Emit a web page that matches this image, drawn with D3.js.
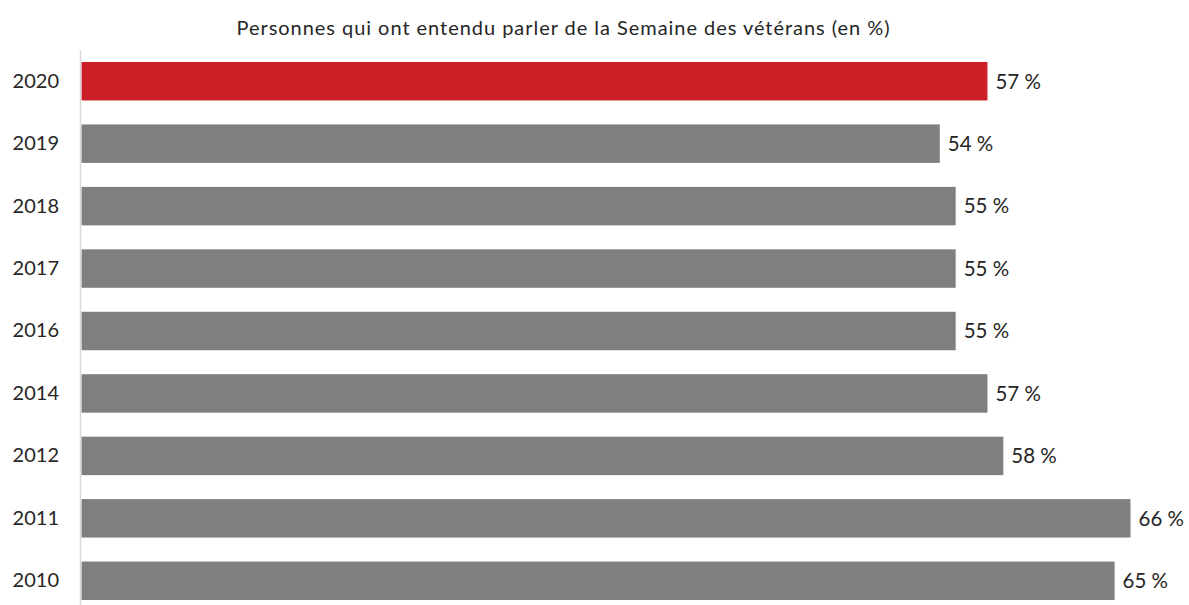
<!DOCTYPE html>
<html>
<head>
<meta charset="utf-8">
<script src="https://cdn.jsdelivr.net/npm/d3@7"></script>
<style>
  body { margin: 0; background: #fff; }
  svg { display: block; font-family: Lato, "Open Sans", sans-serif; }
</style>
</head>
<body>
<svg id="chart" width="1189" height="605"></svg>
<script>
const title = 'Personnes qui ont entendu parler de la Semaine des vétérans (en %)';
const years = ['2020', '2019', '2018', '2017', '2016', '2014', '2012', '2011', '2010'];
const values = [57, 54, 55, 55, 55, 57, 58, 66, 65];
const highlight = '2020';

const svg = d3.select('#chart');

// 0 sits on the axis line, 1% ~ 15.9px
const x = d3.scaleLinear().domain([0, 66]).range([81.5, 1130.5]);
const y = d3.scaleBand().domain(years).range([50, 612]).paddingInner(0.384).paddingOuter(0.192);

svg.append('text')
  .attr('x', 563)
  .attr('y', 35)
  .attr('text-anchor', 'middle')
  .attr('fill', '#262626')
  .style('font-size', '20px')
  .attr('textLength', 653)
  .attr('lengthAdjust', 'spacing')
  .text(title);

svg.selectAll('rect.bar')
  .data(years)
  .enter()
  .append('rect')
  .attr('class', 'bar')
  .attr('x', x(0))
  .attr('y', d => y(d))
  .attr('width', (d, i) => x(values[i]) - x(0))
  .attr('height', y.bandwidth())
  .attr('fill', d => d === highlight ? '#cc1f28' : '#7f7f7f');

svg.selectAll('text.val')
  .data(years)
  .enter()
  .append('text')
  .attr('class', 'val')
  .attr('x', (d, i) => x(values[i]) + 8)
  .attr('y', d => y(d) + y.bandwidth() / 2)
  .attr('dy', '0.36em')
  .attr('fill', '#262626')
  .style('font-size', '20.5px')
  .text((d, i) => values[i] + ' %');

const axis = svg.append('g')
  .attr('transform', `translate(${x(0) - 1.5},0)`)
  .call(d3.axisLeft(y).tickSize(0).tickPadding(21));

axis.select('.domain').attr('stroke', '#d9d9d9').attr('stroke-width', 1.5);
axis.selectAll('text')
  .attr('fill', '#262626')
  .style('font-family', 'Lato, "Open Sans", sans-serif')
  .style('font-size', '20px');
</script>
</body>
</html>
